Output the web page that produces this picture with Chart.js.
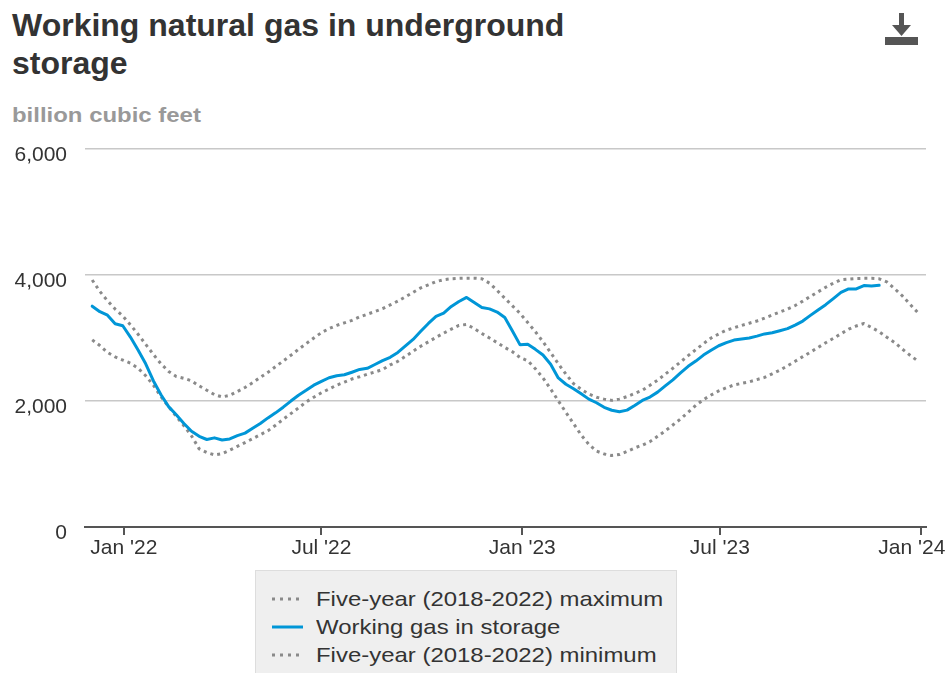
<!DOCTYPE html>
<html>
<head>
<meta charset="utf-8">
<script src="https://cdn.jsdelivr.net/npm/chart.js@4.4.1/dist/chart.umd.min.js"></script>
<style>
  body{margin:0;width:947px;height:673px;overflow:hidden;position:relative;background:#fff;font-family:"Liberation Sans",Arial,sans-serif}
  #title{position:absolute;left:12px;top:6px;width:600px;font-weight:bold;font-size:32px;line-height:38px;color:#333}
  #units{position:absolute;left:12px;top:103px;font-weight:bold;font-size:21px;color:#999;transform:scaleX(1.14);transform-origin:left center;white-space:nowrap}
  #dl{position:absolute;left:884px;top:12px}
  #chart{position:absolute;left:0;top:120px}
  #legend{position:absolute;left:255px;top:570px;width:422px;height:110px;background:#efefef;border:1px solid #ddd;box-sizing:border-box}
  .item{position:absolute;left:14px;height:28px;display:flex;align-items:center;white-space:nowrap}
  .item span{font-size:21px;color:#333;margin-left:12px;transform:scaleX(1.14);transform-origin:left center}
</style>
</head>
<body>
<div id="title">Working natural gas in underground storage</div>
<div id="units">billion cubic feet</div>
<svg id="dl" width="36" height="36" viewBox="0 0 36 36">
  <rect x="15" y="1" width="5" height="14" fill="#555"/>
  <polygon points="8,13 27,13 17.5,24" fill="#555"/>
  <rect x="1" y="25" width="33" height="8" fill="#555"/>
</svg>
<canvas id="chart" width="947" height="450"></canvas>
<div id="legend"></div>
<script>
// weekly report dates (Fridays)
const firstWeek = "2021-12-03";
const lastWeek = "2023-12-29";

const tickDates = ["2022-01-01", "2022-07-01", "2023-01-01", "2023-07-01", "2024-01-01"];
const tickLabels = ["Jan '22", "Jul '22", "Jan '23", "Jul '23", "Jan '24\u00a0\u00a0\u00a0"];
const yTicks = [0, 2000, 4000, 6000];

// Five-year (2018-2022) maximum, bcf
const fiveYearMax = [
  3921, 3740, 3590, 3460, 3350, 3210, 3060, 2900, 2740, 2590,
  2470, 2390, 2360, 2320, 2240, 2170, 2100, 2065, 2090, 2150,
  2215, 2290, 2375, 2455, 2545, 2635, 2725, 2820, 2910, 3000,
  3085, 3150, 3200, 3240, 3280, 3335, 3378, 3420, 3465, 3525,
  3585, 3655, 3725, 3795, 3845, 3895, 3925, 3940, 3947, 3950,
  3950, 3940, 3870, 3755, 3632, 3510, 3390, 3245, 3100, 2940,
  2768, 2590, 2427, 2275, 2186, 2110, 2060, 2030, 2010, 2030,
  2070, 2120, 2170, 2249, 2330, 2426, 2520, 2620, 2720, 2815,
  2910, 3000, 3064, 3125, 3162, 3200, 3235, 3270, 3315, 3365,
  3411, 3460, 3515, 3585, 3660, 3733, 3805, 3870, 3925, 3935,
  3945, 3947, 3947, 3940, 3890, 3786, 3673, 3540, 3410
];

// Working gas in storage, bcf (through 2023-11-24)
const workingGas = [
  3505, 3417, 3362, 3226, 3194,
  3015, 2809, 2590, 2322, 2100, 1911, 1782, 1643, 1519, 1440, 1389, 1415,
  1382, 1397, 1450, 1490, 1567, 1643, 1732, 1812, 1902, 1999, 2091, 2169, 2251,
  2311, 2369, 2401, 2416, 2457, 2501, 2519, 2579, 2640, 2694, 2771, 2874, 2977, 3106,
  3231, 3342, 3394, 3501, 3580, 3644, 3564, 3483, 3462, 3412, 3325, 3112, 2891,
  2902, 2820, 2729, 2583, 2366, 2266, 2195, 2114, 2030, 1972, 1900, 1853, 1830,
  1855, 1930, 2009, 2063, 2141, 2240, 2336, 2446, 2550, 2634, 2729, 2805, 2877,
  2926, 2967, 2983, 3001, 3030, 3065, 3083, 3115, 3148, 3205, 3269, 3359, 3445,
  3529, 3626, 3723, 3779, 3779, 3833, 3826, 3836
];

// Five-year (2018-2022) minimum, bcf
const fiveYearMin = [
  2970, 2880, 2770, 2700, 2650, 2600, 2522, 2400, 2252, 2070,
  1910, 1755, 1608, 1446, 1240, 1181, 1145, 1165, 1220, 1280,
  1340, 1402, 1465, 1528, 1615, 1710, 1800, 1890, 1985, 2060,
  2130, 2190, 2251, 2300, 2350, 2385, 2425, 2460, 2500, 2573,
  2630, 2709, 2790, 2870, 2940, 3010, 3077, 3140, 3200, 3215,
  3150, 3071, 3000, 2926, 2850, 2782, 2690, 2640, 2512, 2366,
  2190, 2003, 1820, 1640, 1460, 1311, 1205, 1160, 1135, 1150,
  1200, 1255, 1300, 1355, 1439, 1525, 1619, 1715, 1821, 1930,
  2022, 2095, 2160, 2210, 2255, 2280, 2305, 2340, 2375, 2431,
  2490, 2559, 2630, 2704, 2775, 2850, 2925, 2995, 3067, 3140,
  3191, 3230, 3167, 3100, 3013, 2930, 2827, 2730, 2640
];

const seriesLabels = [
  "Five-year (2018-2022) maximum",
  "Working gas in storage",
  "Five-year (2018-2022) minimum"
];

const DAY = 86400000;
const origin = Date.parse("2022-01-01");
const dayOf = s => (Date.parse(s) - origin) / DAY;

const weekDays = [];
for (let d = dayOf(firstWeek); d <= dayOf(lastWeek); d += 7) weekDays.push(d);
const toPts = arr => arr.map((v, i) => ({x: weekDays[i], y: v}));

const GREY = "#8a8a8a", BLUE = "#0096d7";

const chart = new Chart(document.getElementById("chart"), {
  type: "line",
  data: {
    datasets: [
      {label: seriesLabels[0], data: toPts(fiveYearMax), borderColor: GREY, borderWidth: 3, borderDash: [3, 4], order: 1},
      {label: seriesLabels[1], data: toPts(workingGas), borderColor: BLUE, borderWidth: 3, order: 0, borderCapStyle: "round"},
      {label: seriesLabels[2], data: toPts(fiveYearMin), borderColor: GREY, borderWidth: 3, borderDash: [3, 4], order: 1},
    ]
  },
  options: {
    responsive: false,
    animation: false,
    devicePixelRatio: 1,
    layout: {padding: {left: 0, right: 21, top: 29, bottom: 0}},
    elements: {point: {radius: 0}, line: {tension: 0, borderJoinStyle: "round"}},
    plugins: {legend: {display: false}, tooltip: {enabled: false}},
    scales: {
      x: {
        type: "linear",
        min: -35.6, max: 734.9,
        afterBuildTicks: s => { s.ticks = tickDates.map(t => ({value: dayOf(t)})); },
        afterFit: s => { s.height = 43; s.paddingLeft = 0; s.paddingRight = 0; },
        ticks: {
          callback: (v, i) => tickLabels[i],
          autoSkip: false, maxRotation: 0, padding: 1,
          color: "#333", font: {family: "'Liberation Sans', Arial", size: 21}
        },
        grid: {drawOnChartArea: false, drawTicks: true, tickLength: 8, color: "#555", lineWidth: 2},
        border: {display: true, color: "#555", width: 2}
      },
      y: {
        min: 0, max: 6000,
        afterBuildTicks: s => { s.ticks = yTicks.map(v => ({value: v})); },
        afterFit: s => { s.width = 85; s.paddingTop = 0; s.paddingBottom = 0; },
        ticks: {
          callback: v => v.toLocaleString("en-US"),
          padding: 18, labelOffset: 6,
          color: "#333", font: {family: "'Liberation Sans', Arial", size: 21}
        },
        grid: {color: "#c8c8c8", lineWidth: 1.5, drawTicks: false},
        border: {display: false}
      }
    }
  }
});

// HTML legend built from the datasets
const legend = document.getElementById("legend");
chart.data.datasets.forEach((ds, i) => {
  const row = document.createElement("div");
  row.className = "item";
  row.style.top = (14 + i * 28) + "px";
  const dash = ds.borderDash ? `stroke-dasharray="3 5"` : "";
  row.innerHTML = `<svg width="34" height="6"><line x1="2" y1="3" x2="33" y2="3" stroke="${ds.borderColor}" stroke-width="3" ${dash}/></svg><span>${ds.label}</span>`;
  legend.appendChild(row);
});
</script>
</body>
</html>
